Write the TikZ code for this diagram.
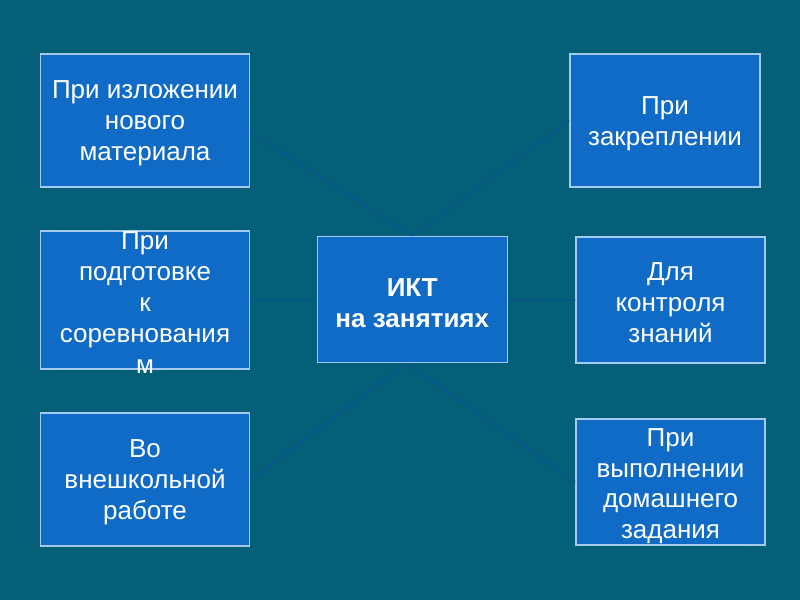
\documentclass[tikz,border=0pt]{standalone}
\usepackage{fontspec}
\setmainfont{Liberation Sans}
\definecolor{bgteal}{HTML}{045F78}
\definecolor{boxblue}{HTML}{106BC6}
\definecolor{boxedge}{HTML}{A4CBEC}
\definecolor{linkblue}{HTML}{0B4F98}
\begin{document}
\begin{tikzpicture}[x=1pt,y=-1pt,
  box/.style={draw=boxedge, line width=1.5pt, fill=boxblue, inner sep=0pt},
  lbl/.style={inner sep=0pt, text=white, align=center, font=\fontsize{26}{31}\selectfont},
  link/.style={draw=linkblue, line width=1pt}]
\useasboundingbox (0,0) rectangle (800,600);
\fill[bgteal] (0,0) rectangle (800,600);
% boxes
\node[box, minimum width=209pt, minimum height=133pt] (tl) at (145,120.5) {};
\node[box, minimum width=209pt, minimum height=138pt] (ml) at (145,300) {};
\node[box, minimum width=209pt, minimum height=133pt] (bl) at (145,479.5) {};
\node[box, minimum width=190pt, minimum height=126pt] (c) at (412.3,299.7) {};
\node[box, minimum width=190pt, minimum height=133pt] (tr) at (665,120.5) {};
\node[box, minimum width=189pt, minimum height=126pt] (mr) at (670.5,299.8) {};
\node[box, minimum width=189pt, minimum height=126pt] (br) at (670.5,482) {};
% texts
\node[lbl] (tlt) at ([yshift=-3pt]tl.center) {При изложении\\нового\\материала};
\node[lbl] (mlt) at ([yshift=-3pt]ml.center) {При\\подготовке\\к\\соревнования\\м};
\node[lbl] (blt) at ([yshift=-3pt]bl.center) {Во\\внешкольной\\работе};
\node[lbl, font=\fontsize{26}{31}\selectfont\bfseries] (ct) at ([yshift=-3pt]c.center) {ИКТ\\на занятиях};
\node[lbl] (trt) at ([yshift=-3pt]tr.center) {При\\закреплении};
\node[lbl] (mrt) at ([yshift=-3pt]mr.center) {Для\\контроля\\знаний};
\node[lbl, font=\fontsize{26}{30.5}\selectfont] (brt) at ([yshift=-4pt]br.center) {При\\выполнении\\домашнего\\задания};
% connectors
\draw[link] (tl.-6) -- (c.north);
\draw[link] (tr.west) -- (c.north);
\draw[link] (ml.east) -- (c.west);
\draw[link] (c.east) -- (mr.west);
\draw[link] ([xshift=-6pt]c.south) -- (bl.east);
\draw[link] ([xshift=-5pt]c.south) -- (br.west);
\end{tikzpicture}
\end{document}
